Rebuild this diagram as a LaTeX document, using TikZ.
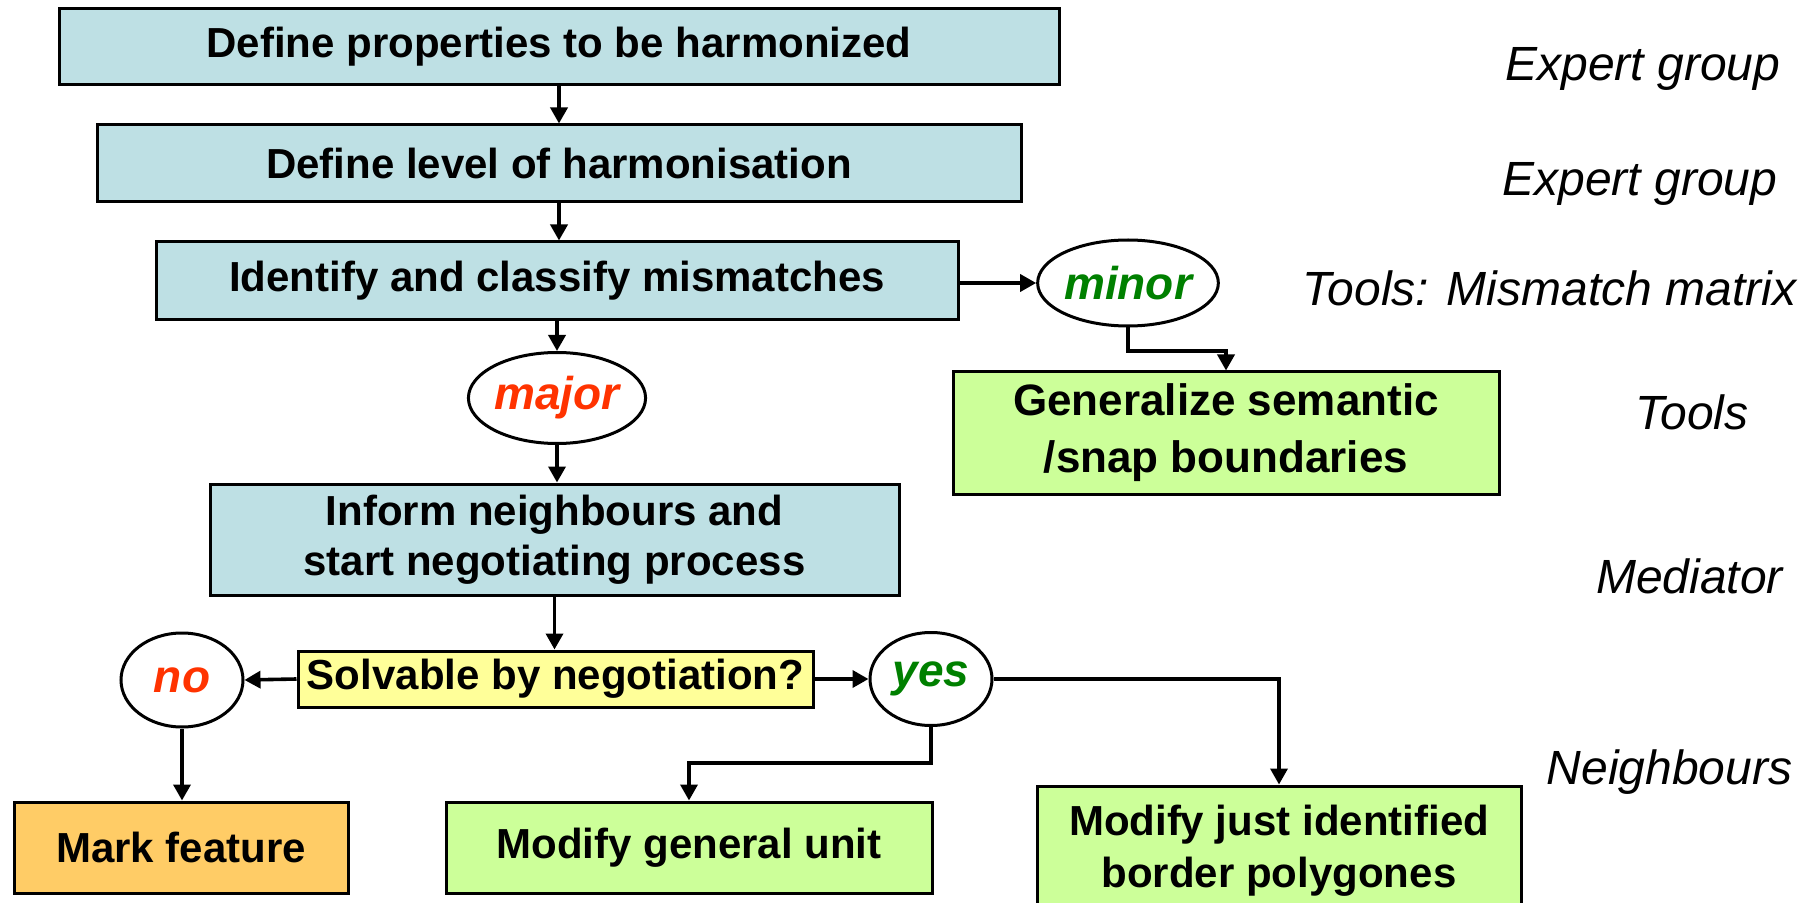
\documentclass[tikz,border=0pt]{standalone}
\usepackage{fontspec}
\setmainfont{Liberation Sans}
\usetikzlibrary{shapes.geometric,arrows.meta}
\definecolor{bluebox}{RGB}{190,224,228}
\definecolor{greenbox}{RGB}{204,255,153}
\definecolor{yellowbox}{RGB}{255,255,153}
\definecolor{orangebox}{RGB}{255,204,102}
\definecolor{redtxt}{RGB}{255,51,0}
\definecolor{greentxt}{RGB}{0,128,0}
\tikzset{
  box/.style={draw=black, line width=1.5pt, rectangle, inner sep=0pt, align=center,
    font=\bfseries\fontsize{21}{25}\selectfont},
  bluestep/.style={box, fill=bluebox},
  greenstep/.style={box, fill=greenbox},
  oval/.style={draw=black, line width=1.5pt, ellipse, fill=white, inner sep=0pt,
    font=\bfseries\itshape\fontsize{23}{27}\selectfont},
  role/.style={inner sep=0pt, font=\itshape\fontsize{24}{28}\selectfont},
  arr/.style={line width=1.8pt, -{Triangle[length=8pt,width=8.5pt]}},
}
\begin{document}
\begin{tikzpicture}[x=0.5pt,y=-0.5pt]
\useasboundingbox (0,0) rectangle (1809,903);
\fill[white] (0,0) rectangle (1809,903);
\clip (0,0) rectangle (1809,903);

% main column
\node[bluestep, minimum width=500pt, minimum height=38pt] (b1) at (559,47) {Define properties to be harmonized};
\node[bluestep, minimum width=462pt, minimum height=38.5pt] (b2) at (559,163.5) {Define level of harmonisation};
\node[bluestep, minimum width=401pt, minimum height=39pt] (b3) at (557,281) {Identify and classify mismatches};
\node[oval, minimum width=84pt, minimum height=45.5pt, text=redtxt] (major) at (557,398) {major};
\node[bluestep, minimum width=344.5pt, minimum height=55.5pt] (inform) at (554.5,539.5) {Inform neighbours and\\start negotiating process};
\node[box, fill=yellowbox, minimum width=257.5pt, minimum height=28pt] (solv) at (555.5,679) {Solvable by negotiation?};

% minor branch
\node[oval, minimum width=83pt, minimum height=43pt, text=greentxt] (minor) at (1128,283) {minor};
\node[greenstep, minimum width=273pt, minimum height=61pt, font=\bfseries\fontsize{22}{28.5}\selectfont] (gen) at (1226,433) {Generalize semantic\\/snap boundaries};

% decision outcomes
\node[oval, minimum width=61pt, minimum height=47pt, text=redtxt] (no) at (182,680) {no};
\node[oval, minimum width=61pt, minimum height=46.5pt, text=greentxt] (yes) at (931,679) {yes};
\node[box, fill=orangebox, minimum width=167pt, minimum height=45.5pt] (mark) at (181,847.5) {Mark feature};
\node[greenstep, minimum width=243pt, minimum height=45.5pt] (modgen) at (689,847.5) {Modify general unit};
\node[greenstep, minimum width=242pt, minimum height=65pt, font=\bfseries\fontsize{21}{26}\selectfont] (modjust) at (1279,851) {Modify just identified\\border polygones};

% role labels
\node[role] (r1) at (1643,69) {Expert group};
\node[role] (r2) at (1640,184) {Expert group};
\node[role] (r3) at (1549.5,288) {Tools: Mismatch matrix};
\node[role] (r4) at (1692,412) {Tools};
\node[role] (r5) at (1689.5,576) {Mediator};
\node[role] (r6) at (1669.5,772) {Neighbours};

% connectors
\draw[arr] (b1.south) -- (b1.south |- b2.north);
\draw[arr] (b2.south) -- (b2.south |- b3.north);
\draw[arr] (b3.south -| major) -- (major.north);
\draw[arr] (major.south) -- (major.south |- inform.north);
\draw[arr] (inform.south) -- (inform.south |- solv.north);
\draw[arr] (b3.east |- minor.west) -- (minor.west);
\coordinate (mbend) at (1128,351);
\draw[arr] (minor.south) -- (mbend) -| (gen.north);
\draw[arr] (solv.west) -- (no.east);
\draw[arr] (solv.east) -- (yes.west);
\draw[arr] (no.south) -- (no.south |- mark.north);
\coordinate (ybend) at (931,763);
\draw[arr] (yes.south) -- (ybend) -| (modgen.north);
\draw[arr] (yes.east) -| (modjust.north);
\end{tikzpicture}
\end{document}
